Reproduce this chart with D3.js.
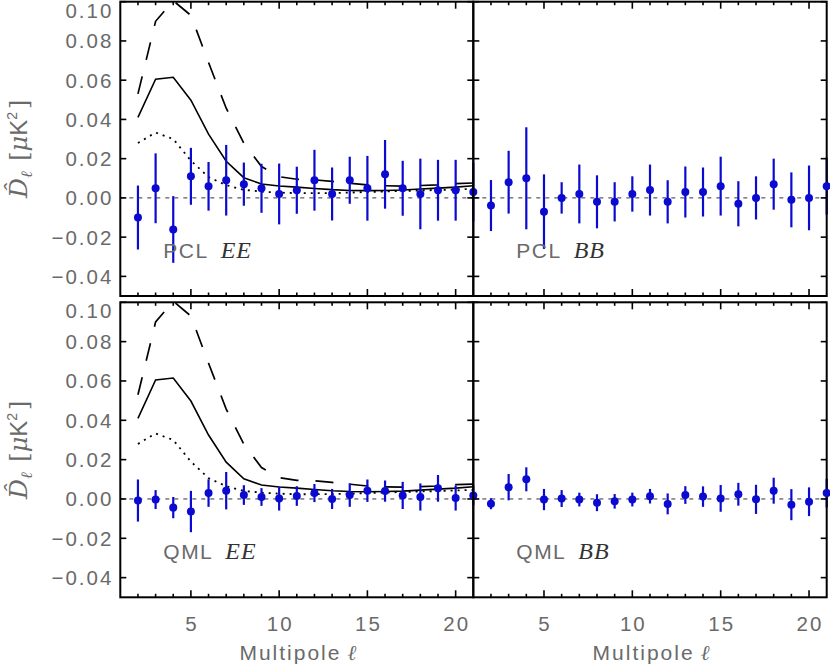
<!DOCTYPE html>
<html><head><meta charset="utf-8">
<script src="https://cdn.jsdelivr.net/npm/d3@7"></script>
<style>
html,body{margin:0;padding:0;background:#fff;}
svg{display:block;}
</style></head>
<body>
<svg id="chart" width="830" height="664"></svg>
<script>
// ---------- data ----------
const ells = [2,3,4,5,6,7,8,9,10,11,12,13,14,15,16,17,18,19,20,21];
const xTickLabels = [5,10,15,20];
const yTickValues = [-0.04,-0.02,0.00,0.02,0.04,0.06,0.08,0.10];

// theory curves (EE)
const solidEE  = [0.041,0.0605,0.0615,0.0498,0.0325,0.0187,0.0103,0.0071,0.0061,0.0055,0.0048,0.0042,0.0038,0.0037,0.0038,0.0040,0.0045,0.0050,0.0055,0.0062];
const dashedEE = [0.053,0.090,0.1005,0.093,0.069,0.0457,0.0278,0.016,0.0108,0.0095,0.0092,0.0084,0.0075,0.0066,0.0062,0.0060,0.0063,0.0066,0.0073,0.0076];
const dottedEE = [0.028,0.0333,0.030,0.019,0.0106,0.0065,0.0041,0.0032,0.0027,0.0024,0.0024,0.0025,0.0027,0.0030,0.0033,0.0035,0.0038,0.0040,0.0043,0.0046];

// PCL EE
const pclEE    = [-0.0100,0.0049,-0.0161,0.0110,0.0059,0.0090,0.0070,0.0049,0.0020,0.0039,0.0090,0.0020,0.0090,0.0049,0.0120,0.0049,0.0020,0.0039,0.0039,0.0030];
const pclEEerr = [0.0163,0.0178,0.0170,0.0145,0.0124,0.0180,0.0110,0.0125,0.0155,0.0120,0.0155,0.0135,0.0120,0.0165,0.0175,0.0140,0.0180,0.0155,0.0155,0.0150];
// PCL BB
const pclBB    = [-0.0039,0.0080,0.0100,-0.0070,0.0000,0.0020,-0.0020,-0.0020,0.0020,0.0040,-0.0020,0.0030,0.0030,0.0060,-0.0030,0.0000,0.0070,-0.0010,0.0000,0.0060];
const pclBBerr = [0.0130,0.0160,0.0260,0.0190,0.0080,0.0150,0.0135,0.0100,0.0090,0.0130,0.0110,0.0130,0.0125,0.0150,0.0115,0.0110,0.0130,0.0140,0.0165,0.0145];
// QML EE
const qmlEE    = [-0.0008,-0.0003,-0.0044,-0.0064,0.0030,0.0042,0.0020,0.0010,0.0002,0.0015,0.0030,0.0000,0.0020,0.0042,0.0040,0.0018,0.0010,0.0054,0.0005,0.0018];
const qmlEEerr = [0.0107,0.0048,0.0054,0.0105,0.0070,0.0095,0.0050,0.0045,0.0061,0.0050,0.0046,0.0051,0.0060,0.0057,0.0054,0.0069,0.0069,0.0068,0.0064,0.0050];
// QML BB
const qmlBB    = [-0.0024,0.0060,0.0100,-0.0003,0.0002,-0.0003,-0.0019,-0.0012,-0.0003,0.0014,-0.0025,0.0020,0.0012,0.0003,0.0024,-0.0002,0.0042,-0.0029,-0.0014,0.0030];
const qmlBBerr = [0.0028,0.0067,0.0061,0.0054,0.0043,0.0035,0.0043,0.0037,0.0035,0.0037,0.0053,0.0045,0.0052,0.0068,0.0058,0.0074,0.0066,0.0079,0.0073,0.0073];

const panels = [
  {row:0,col:0,method:"PCL",spec:"EE",vals:pclEE,errs:pclEEerr,theory:true},
  {row:0,col:1,method:"PCL",spec:"BB",vals:pclBB,errs:pclBBerr,theory:false},
  {row:1,col:0,method:"QML",spec:"EE",vals:qmlEE,errs:qmlEEerr,theory:true},
  {row:1,col:1,method:"QML",spec:"BB",vals:qmlBB,errs:qmlBBerr,theory:false}
];

// ---------- layout ----------
const colX = [[120.3,473.3],[473.3,826.7]];
const rowY = [[296,1.7],[597.3,302.3]];
const blue = "#0a0ad0";
const labelGray = "#6a6a6a";

const svg = d3.select("#chart");
const defs = svg.append("defs");

panels.forEach((p,i)=>{
  const x = d3.scaleLinear().domain([1,21]).range(colX[p.col]);
  const y = d3.scaleLinear().domain([-0.05,0.10]).range(rowY[p.row]);
  const g = svg.append("g");
  const [x0,x1] = x.range(), [y0,y1] = y.range();

  defs.append("clipPath").attr("id","clip"+i)
    .append("rect").attr("x",x0).attr("y",y1).attr("width",x1-x0).attr("height",y0-y1);

  // zero line
  g.append("line").attr("x1",x0).attr("x2",x1).attr("y1",y(0)).attr("y2",y(0))
    .attr("stroke","#333").attr("stroke-width",1).attr("stroke-dasharray","4,5");

  // theory curves
  if (p.theory) {
    const cg = g.append("g").attr("clip-path","url(#clip"+i+")");
    const line = d3.line().x((d,k)=>x(ells[k])).y(d=>y(d));
    cg.append("path").attr("d",line(solidEE)).attr("fill","none").attr("stroke","#000").attr("stroke-width",1.6);
    cg.append("path").attr("d",line(dashedEE)).attr("fill","none").attr("stroke","#000").attr("stroke-width",1.7).attr("stroke-dasharray","18,17");
    cg.append("path").attr("d",line(dottedEE)).attr("fill","none").attr("stroke","#000").attr("stroke-width",1.8).attr("stroke-dasharray","2,5");
  }

  // error bars
  g.selectAll("line.err").data(p.vals).enter().append("line")
    .attr("x1",(d,k)=>x(ells[k])).attr("x2",(d,k)=>x(ells[k]))
    .attr("y1",(d,k)=>y(d - p.errs[k])).attr("y2",(d,k)=>y(d + p.errs[k]))
    .attr("stroke",blue).attr("stroke-width",2.2);

  // frame
  g.append("rect").attr("x",x0).attr("y",y1).attr("width",x1-x0).attr("height",y0-y1)
    .attr("fill","none").attr("stroke","#000").attr("stroke-width",2);

  // x ticks (bottom and top, inside)
  const xt = d3.range(2,21);
  xt.forEach(v=>{
    const len = (v%5===0)?7:3.5;
    g.append("line").attr("x1",x(v)).attr("x2",x(v)).attr("y1",y0).attr("y2",y0-len).attr("stroke","#000").attr("stroke-width",1.6);
    g.append("line").attr("x1",x(v)).attr("x2",x(v)).attr("y1",y1).attr("y2",y1+len).attr("stroke","#000").attr("stroke-width",1.6);
  });
  // y ticks (left and right, inside)
  yTickValues.forEach(v=>{
    g.append("line").attr("x1",x0).attr("x2",x0+6).attr("y1",y(v)).attr("y2",y(v)).attr("stroke","#000").attr("stroke-width",1.6);
    g.append("line").attr("x1",x1).attr("x2",x1-6).attr("y1",y(v)).attr("y2",y(v)).attr("stroke","#000").attr("stroke-width",1.6);
  });

  // points
  g.selectAll("circle.pt").data(p.vals).enter().append("circle")
    .attr("cx",(d,k)=>x(ells[k])).attr("cy",d=>y(d)).attr("r",4).attr("fill",blue);

  // panel label
  const lab = g.append("text").attr("x",x(1)+43).attr("y",y(-0.0305));
  lab.append("tspan").text(p.method).attr("font-family","Liberation Sans, Arial, sans-serif")
    .attr("font-size",21).attr("fill",labelGray).attr("letter-spacing","1.5px");
  lab.append("tspan").text(p.spec).attr("dx",12).attr("font-family","Liberation Serif, Times New Roman, serif")
    .attr("font-style","italic").attr("font-size",24).attr("fill","#333").attr("letter-spacing","1px");

  // y tick labels + y axis label (left column)
  if (p.col===0) {
    yTickValues.forEach(v=>{
      g.append("text").attr("x",x0-7).attr("y",Math.max(y(v)+7.5, y1+16)).attr("text-anchor","end")
        .attr("font-family","Liberation Sans, Arial, sans-serif").attr("font-size",20.5)
        .attr("letter-spacing","2px").attr("fill",labelGray)
        .text((v<0?"\u2212":"")+d3.format(".2f")(Math.abs(v)));
    });
    const cy = (y0+y1)/2;
    const t = g.append("text").attr("transform",`translate(27,${cy}) rotate(-90)`).attr("text-anchor","middle")
      .attr("font-size",24).attr("fill",labelGray);
    t.append("tspan").text("D\u0302").attr("font-family","DejaVu Serif, serif").attr("font-style","italic").attr("font-size",25);
    t.append("tspan").text("\u2113").attr("font-family","DejaVu Serif, serif").attr("font-style","italic").attr("font-size",16).attr("dy",5);
    t.append("tspan").text(" [").attr("font-family","DejaVu Serif, serif").attr("dy",-5).attr("dx",3);
    t.append("tspan").text("\u03bc").attr("font-family","DejaVu Serif, serif").attr("font-style","italic");
    t.append("tspan").text("K").attr("font-family","Liberation Sans, Arial, sans-serif");
    t.append("tspan").text("2").attr("font-family","Liberation Sans, Arial, sans-serif").attr("font-size",14).attr("dy",-10);
    t.append("tspan").text("]").attr("font-family","DejaVu Serif, serif").attr("dy",10).attr("dx",3);
  }

  // x tick labels + x axis label (bottom row)
  if (p.row===1) {
    xTickLabels.forEach(v=>{
      g.append("text").attr("x",x(v)+1).attr("y",631).attr("text-anchor","middle")
        .attr("font-family","Liberation Sans, Arial, sans-serif").attr("font-size",20.5)
        .attr("letter-spacing","2px").attr("fill",labelGray).text(v);
    });
    const xl = g.append("text").attr("x",(x0+x1)/2+1).attr("y",660).attr("text-anchor","middle")
      .attr("font-size",21).attr("fill",labelGray);
    xl.append("tspan").text("Multipole").attr("font-family","Liberation Sans, Arial, sans-serif").attr("letter-spacing","2px");
    xl.append("tspan").text("\u2113").attr("dx",6).attr("font-family","DejaVu Serif, serif").attr("font-style","italic");
  }
});
</script>
</body></html>
